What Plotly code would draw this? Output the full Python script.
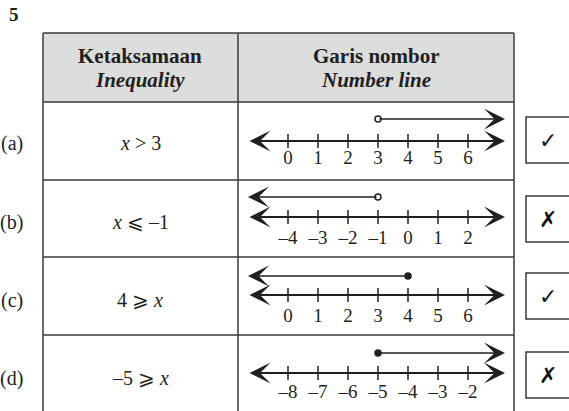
import plotly.graph_objects as go

# data
row_labels = ["(a)", "(b)", "(c)", "(d)"]
inequalities = ["<i>x</i> > 3", "<i>x</i> ⩽ –1", "4 ⩾ <i>x</i>", "–5 ⩾ <i>x</i>"]
tick_start = [0, -4, 0, -8]          # first tick of each number line (7 ticks)
boundary = [3, -1, 4, -5]            # where the ray starts
closed = [False, False, True, True]  # filled dot or open circle
ray_dir = ["right", "left", "left", "right"]
marks = ["✓", "✗", "✓", "✗"]

# layout in pixels (page is 569 x 411)
W, H = 569, 411
row_top = [102, 180, 257, 335]
line_y = [141, 217, 295, 373]
ray_y = [119, 197, 276, 353]
label_y = [159, 239, 317, 393]
text_y = [143, 222, 300, 378]
box_y = [(117, 163), (196, 242), (273, 319), (352, 398)]
x0_px, unit_px = 288, 30         # pixel of first tick, pixels per unit
left_px, right_px = 248, 505     # ends of the number lines

serif = "Liberation Serif"
ink = "#231f20"

fig = go.Figure()
shapes = []
annotations = []

# header fill and table lines
shapes.append(dict(type="rect", xref="x", yref="y", x0=43, x1=514, y0=33, y1=102,
                   fillcolor="#dcdddd", line_width=0, layer="below"))
for yy in [33, 102] + row_top[1:]:
    shapes.append(dict(type="line", xref="x", yref="y", x0=43, x1=514, y0=yy, y1=yy,
                       line=dict(color="#3a3a3a", width=1.5)))
for xx in [43, 238, 514]:
    shapes.append(dict(type="line", xref="x", yref="y", x0=xx, x1=xx, y0=33, y1=H + 5,
                       line=dict(color="#3a3a3a", width=1.5)))

# header text
for cx, top, bottom in [(140, "Ketaksamaan", "Inequality"), (376, "Garis nombor", "Number line")]:
    annotations.append(dict(x=cx, y=56, xref="x", yref="y", text="<b>" + top + "</b>",
                            showarrow=False, font=dict(family=serif, size=21, color=ink)))
    annotations.append(dict(x=cx, y=80, xref="x", yref="y", text="<b><i>" + bottom + "</i></b>",
                            showarrow=False, font=dict(family=serif, size=21, color=ink)))

annotations.append(dict(x=14, y=14, xref="x", yref="y", text="<b>5</b>", showarrow=False,
                        font=dict(family=serif, size=19, color=ink)))

for i in range(4):
    xa = "x" + str(i + 2)
    v0 = tick_start[i]
    lo = v0 + (left_px - x0_px) / unit_px
    hi = v0 + (right_px - x0_px) / unit_px
    fig.update_layout(**{
        "xaxis" + str(i + 2): dict(domain=[0, 1], anchor="y", overlaying="x", visible=False,
                                   range=[v0 - x0_px / unit_px, v0 + (W - x0_px) / unit_px])
    })

    # row label and inequality
    annotations.append(dict(x=25, y=text_y[i], xref="x", yref="y", text=row_labels[i],
                            xanchor="right", showarrow=False,
                            font=dict(family=serif, size=20, color=ink)))
    annotations.append(dict(x=140, y=text_y[i], xref="x", yref="y", text=inequalities[i],
                            showarrow=False, font=dict(family=serif, size=20, color=ink)))

    # main number line with both arrowheads
    annotations.append(dict(x=hi, y=line_y[i], ax=lo, ay=line_y[i], xref=xa, yref="y",
                            axref=xa, ayref="y", text="", showarrow=True, arrowhead=3,
                            arrowside="end+start", arrowsize=1.6, arrowwidth=2.2,
                            arrowcolor=ink, standoff=0, startstandoff=0))

    # ticks and tick labels
    ticks = [v0 + k for k in range(7)]
    fig.add_trace(go.Scatter(x=ticks, y=[line_y[i]] * 7, xaxis=xa, yaxis="y", mode="markers",
                             marker=dict(symbol="line-ns", size=10, line=dict(color=ink, width=1.5)),
                             hoverinfo="skip", showlegend=False))
    fig.add_trace(go.Scatter(x=ticks, y=[label_y[i]] * 7, xaxis=xa, yaxis="y", mode="text",
                             text=[str(t).replace("-", "–") for t in ticks],
                             textfont=dict(family=serif, size=19, color=ink),
                             hoverinfo="skip", showlegend=False))

    # ray
    b = boundary[i]
    end = hi if ray_dir[i] == "right" else lo
    annotations.append(dict(x=end, y=ray_y[i], ax=b, ay=ray_y[i], xref=xa, yref="y",
                            axref=xa, ayref="y", text="", showarrow=True, arrowhead=3,
                            arrowsize=2.2, arrowwidth=1.6, arrowcolor=ink,
                            standoff=0, startstandoff=0))
    fig.add_trace(go.Scatter(x=[b], y=[ray_y[i]], xaxis=xa, yaxis="y", mode="markers",
                             marker=dict(symbol="circle", size=6,
                                         color=ink if closed[i] else "white",
                                         line=dict(color=ink, width=1.5)),
                             hoverinfo="skip", showlegend=False))

    # answer box
    y0, y1 = box_y[i]
    shapes.append(dict(type="rect", xref="x", yref="y", x0=526, x1=W + 10, y0=y0, y1=y1,
                       line=dict(color="#3a3a3a", width=1.5), fillcolor="white"))
    annotations.append(dict(x=548, y=(y0 + y1) / 2, xref="x", yref="y",
                            text="<b>" + marks[i] + "</b>", showarrow=False,
                            font=dict(family="DejaVu Sans", size=22, color="#111")))

fig.update_layout(
    width=W, height=H, margin=dict(l=0, r=0, t=0, b=0),
    paper_bgcolor="white", plot_bgcolor="white",
    xaxis=dict(range=[0, W], visible=False),
    yaxis=dict(range=[H, 0], visible=False),
    shapes=shapes, annotations=annotations,
)

fig.write_html("out.html", config={"displayModeBar": False},
               post_script="document.body.style.margin='0';")
